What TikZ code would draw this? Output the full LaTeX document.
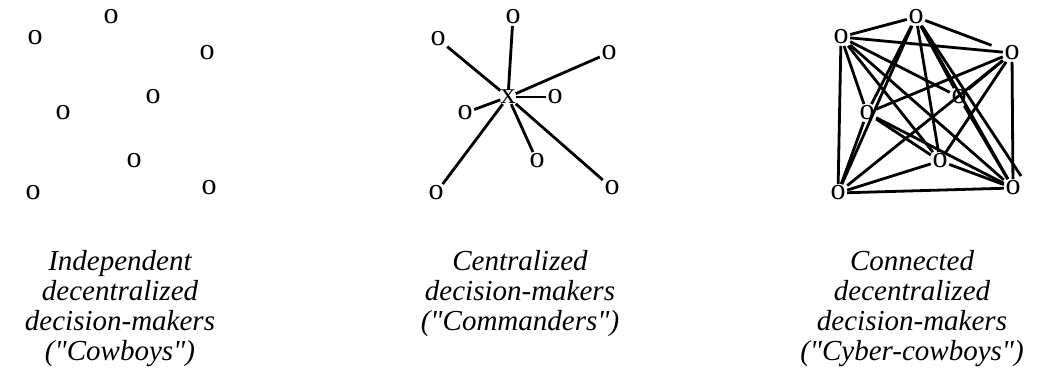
\documentclass[tikz,border=0pt]{standalone}
\usepackage{fontspec}
\setmainfont{Liberation Serif}[Ligatures=TeXOff]
\begin{document}
\begin{tikzpicture}[x=1pt,y=-1pt,
  agent/.style={font=\fontsize{30}{30}\selectfont, inner sep=1.5pt},
  hub/.style={font=\fontsize{30}{30}\selectfont, inner sep=0pt},
  link/.style={line width=2.8pt},
  caption/.style={font=\fontsize{29}{30}\selectfont\itshape, align=center, anchor=north, inner sep=0pt}]
\useasboundingbox (0,0) rectangle (1047,379);

% Independent decision-makers: scattered, unconnected
\node[agent] (p1) at (35,38)  {o};
\node[agent] (p2) at (111,17) {o};
\node[agent] (p3) at (207,53) {o};
\node[agent] (p4) at (63,113) {o};
\node[agent] (p5) at (153,97) {o};
\node[agent] (p6) at (134,161) {o};
\node[agent] (p7) at (33,193) {o};
\node[agent] (p8) at (209,188) {o};

% Centralized: star around a commander
\node[hub]   (c)  at (508,97) {x};
\node[agent] (q1) at (513,17) {o};
\node[agent] (q2) at (438,39) {o};
\node[agent] (q3) at (609,53) {o};
\node[agent] (q4) at (555,97) {o};
\node[agent] (q5) at (465,113) {o};
\node[agent] (q6) at (537,161) {o};
\node[agent] (q7) at (436,193) {o};
\node[agent] (q8) at (612,188) {o};
\foreach \n in {q1,q2,q3,q4,q5,q6,q7,q8}
  \draw[link] (c) -- (\n);

% Connected: dense mesh
\node[agent] (A) at (916,17)  {o};
\node[agent] (B) at (841,37)  {o};
\node[agent] (C) at (1012,53) {o};
\node[agent] (D) at (959,97)  {o};
\node[agent] (E) at (867,113) {o};
\node[agent] (F) at (940,161) {o};
\node[agent] (G) at (838,193) {o};
\node[agent] (H) at (1013,188) {o};
\coordinate (Hx) at (1021,176);
\foreach \u/\v in {A/B,A/D,A/E,A/F,A/G,A/H,A/Hx,
                   B/C,B/D,B/E,B/F,B/G,B/H,
                   C/D,C/E,C/F,C/G,C/H,
                   E/F,E/G,E/H,D/H,F/G,F/H,G/H}
  \draw[link] (\u) -- (\v);
\draw[link, shorten >=12pt] (A) -- (C);

% Captions
\node[caption] (t1) at (120,250) {Independent\\decentralized\\decision-makers\\("Cowboys")};
\node[caption] (t2) at (520,250) {Centralized\\decision-makers\\("Commanders")};
\node[caption] (t3) at (912,250) {Connected\\decentralized\\decision-makers\\("Cyber-cowboys")};
\end{tikzpicture}
\end{document}
